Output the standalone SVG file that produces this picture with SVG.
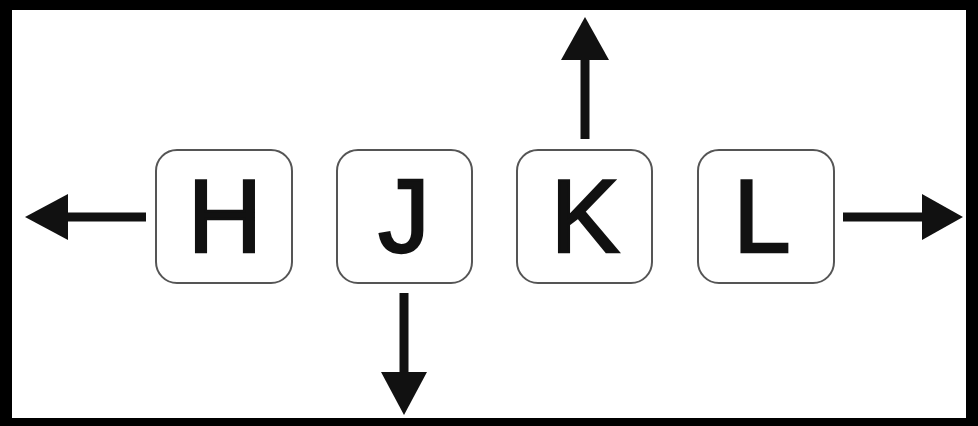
<svg xmlns="http://www.w3.org/2000/svg" width="978" height="426" viewBox="0 0 978 426">
<style>
.key rect{fill:#fff;stroke:#555;stroke-width:2}
.key text{font-family:"Liberation Sans",Arial,sans-serif;font-size:103px;fill:#111;stroke:#111;stroke-width:2.5;text-anchor:middle}
.conn line{stroke:#111;stroke-width:9}
.conn polygon{fill:#111}
</style>
<rect x="0" y="0" width="978" height="426" fill="#000"/>
<rect x="12" y="10" width="954" height="408" fill="#fff"/>
<g id="key-h" class="key"><rect x="156" y="150" width="136" height="133" rx="21"/><text x="225" y="252">H</text></g>
<g id="key-j" class="key"><rect x="337" y="150" width="135" height="133" rx="21"/><text x="404" y="252">J</text></g>
<g id="key-k" class="key"><rect x="517" y="150" width="135" height="133" rx="21"/><text x="585" y="252">K</text></g>
<g id="key-l" class="key"><rect x="698" y="150" width="136" height="133" rx="21"/><text x="762" y="252">L</text></g>
<g id="connectors" class="conn">
<line x1="146" y1="217" x2="64" y2="217"/><polygon points="25,217 68,194 68,240"/>
<line x1="404" y1="293" x2="404" y2="376"/><polygon points="404,415 381,372 427,372"/>
<line x1="585" y1="139" x2="585" y2="56"/><polygon points="585,17 561,60 609,60"/>
<line x1="843" y1="217" x2="926" y2="217"/><polygon points="963,217 922,194 922,240"/>
</g>
</svg>
